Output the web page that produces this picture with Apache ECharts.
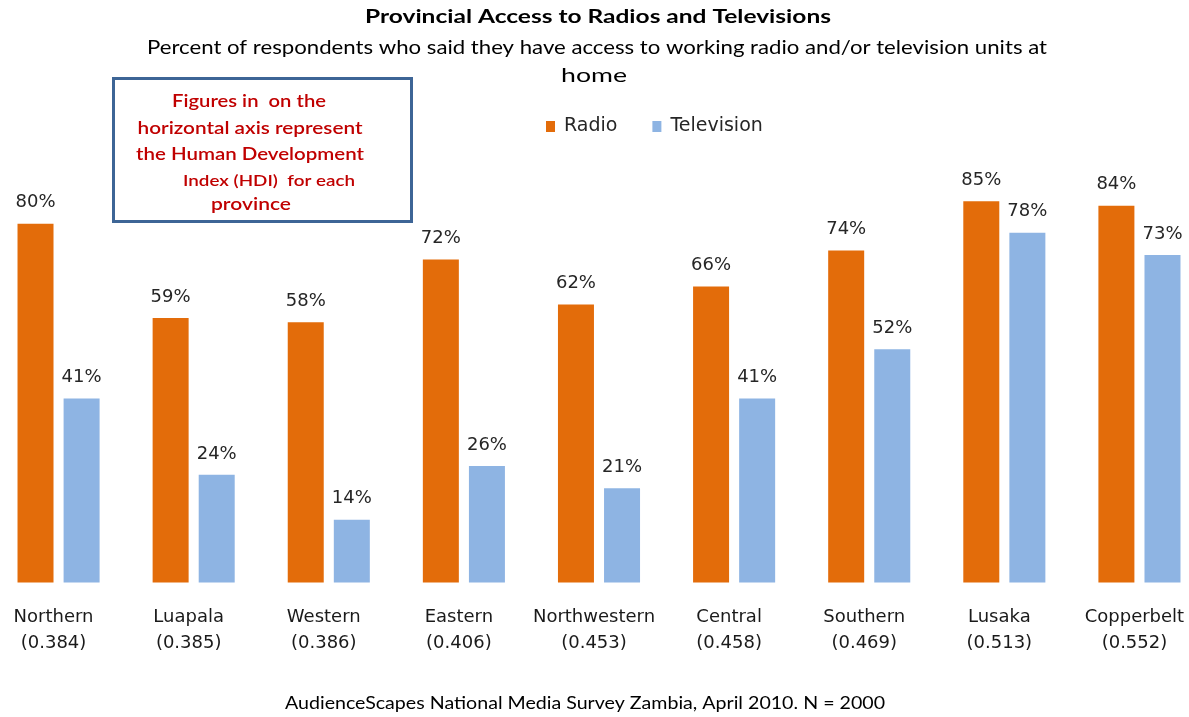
<!DOCTYPE html>
<html>
<head>
<meta charset="utf-8">
<title>Provincial Access to Radios and Televisions</title>
<script src="https://cdn.jsdelivr.net/npm/echarts@6/dist/echarts.min.js"></script>
<style>
  html, body { margin: 0; padding: 0; background: #ffffff; overflow: hidden; }
  /* the plot runs a little past both page edges, so the chart box is wider than the page */
  #chart { width: 1216px; height: 717px; margin-left: -9px; }
</style>
</head>
<body>
<div id="chart"></div>
<script>
// Provinces with their Human Development Index
const provinces = ['Northern', 'Luapala', 'Western', 'Eastern', 'Northwestern', 'Central', 'Southern', 'Lusaka', 'Copperbelt'];
const hdi = ['0.384', '0.385', '0.386', '0.406', '0.453', '0.458', '0.469', '0.513', '0.552'];

// Percent of respondents with access to a working unit
const radio = [80, 59, 58, 72, 62, 66, 74, 85, 84];
const television = [41, 24, 14, 26, 21, 41, 52, 78, 73];

const categories = provinces.map((p, i) => p + '\n(' + hdi[i] + ')');

const LABEL_FONT = '"DejaVu Sans", sans-serif';
const HEAD_FONT = 'Lato, "Open Sans", sans-serif';
const TEXT = '#262626';

// Text drawn in a fixed box width: measured once, then stretched sideways to fit.
const measureCtx = document.createElement('canvas').getContext('2d');
function fittedText(text, width, cx, cy, font, fill) {
  measureCtx.font = font;
  const w = measureCtx.measureText(text).width;
  return {
    type: 'text',
    x: cx,
    y: cy,
    scaleX: width / w,
    style: { text: text, font: font, fill: fill, align: 'center', verticalAlign: 'middle' },
    z: 101
  };
}

const chart = echarts.init(document.getElementById('chart'), null, { renderer: 'canvas' });

const valueLabel = {
  show: true,
  position: 'top',
  distance: 12,
  formatter: '{c}%',
  color: TEXT,
  fontFamily: LABEL_FONT,
  fontSize: 18
};

const boxRed = '#C00000';

chart.setOption({
  animation: false,
  backgroundColor: '#ffffff',
  legend: {
    data: ['Radio', 'Television'],
    left: 550,
    top: 112,
    icon: 'rect',
    itemWidth: 9,
    itemHeight: 11,
    itemGap: 35,
    textStyle: { fontFamily: LABEL_FONT, fontSize: 19, color: TEXT, padding: [0, 0, 0, 4] }
  },
  grid: {
    left: 0,
    right: 0,
    top: 134,
    bottom: 134.5,
    containLabel: false
  },
  xAxis: {
    type: 'category',
    data: categories,
    axisLine: { show: false },
    axisTick: { show: false },
    axisLabel: {
      interval: 0,
      margin: 22,
      color: '#1a1a1a',
      fontFamily: LABEL_FONT,
      fontSize: 18,
      lineHeight: 26,
      padding: [0, 10, 0, 0]
    }
  },
  yAxis: {
    type: 'value',
    min: 0,
    max: 100,
    show: false,
    splitLine: { show: false }
  },
  series: [
    {
      name: 'Radio',
      type: 'bar',
      data: radio,
      barWidth: 36,
      barGap: '28%',
      itemStyle: { color: '#E36C0A' },
      label: valueLabel
    },
    {
      name: 'Television',
      type: 'bar',
      data: television,
      barWidth: 36,
      itemStyle: { color: '#8EB4E3' },
      label: valueLabel
    }
  ],
  graphic: [
    {
      type: 'group',
      x: 9,
      y: 0,
      children: [
        fittedText('Provincial Access to Radios and Televisions', 466, 598, 17, 'bold 19px ' + HEAD_FONT, '#000000'),
        fittedText('Percent of respondents who said they have access to working radio and/or television units at', 900, 597, 48, '19px ' + HEAD_FONT, '#000000'),
        fittedText('home', 66, 594, 76, '19px ' + HEAD_FONT, '#000000'),
        fittedText('AudienceScapes National Media Survey Zambia, April 2010. N = 2000', 600, 585, 704, '17px ' + HEAD_FONT, '#000000'),
        {
          type: 'rect',
          shape: { x: 113.5, y: 78.5, width: 298, height: 143 },
          style: { fill: '#ffffff', stroke: '#3D6596', lineWidth: 3 },
          z: 100
        },
        fittedText('Figures in  on the', 154, 249, 102, '600 17px ' + HEAD_FONT, boxRed),
        fittedText('horizontal axis represent', 225, 250, 129, '600 17px ' + HEAD_FONT, boxRed),
        fittedText('the Human Development', 228, 250, 155, '600 17px ' + HEAD_FONT, boxRed),
        fittedText('Index (HDI)  for each', 172, 269, 181, '600 15.5px ' + HEAD_FONT, boxRed),
        fittedText('province', 80, 251, 205, '600 17px ' + HEAD_FONT, boxRed)
      ]
    }
  ]
});
</script>
</body>
</html>
